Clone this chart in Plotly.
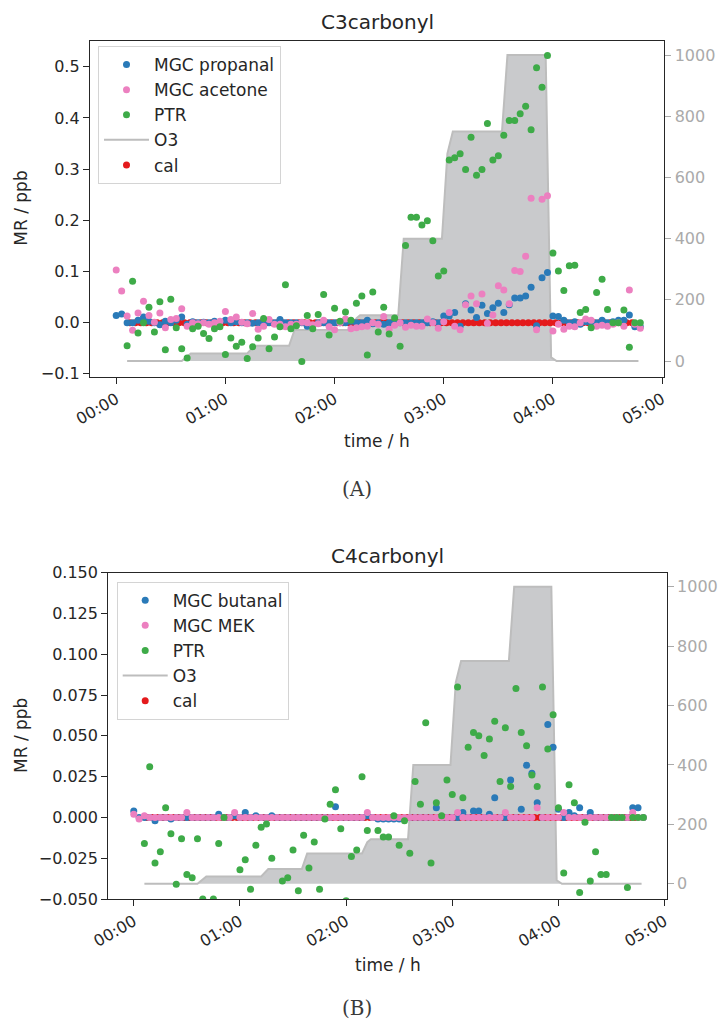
import plotly.graph_objects as go
from datetime import datetime, timedelta

# ---------------- data ----------------
BASE = datetime(2021, 1, 1, 0, 0)

# sampling times of MGC / PTR (minutes after start)
T_MIN = [0, 3, 6, 9, 12, 15, 18, 21, 24, 27, 30, 33, 36, 39, 42, 45, 48, 51, 54, 57,
         60, 63, 66, 69, 72, 75, 78, 81, 84, 87, 90, 93, 96, 99, 102, 105, 108, 111, 114, 117,
         120, 123, 126, 129, 132, 135, 138, 141, 144, 147, 150, 153, 156, 159, 162, 165, 168, 171, 174, 177,
         180, 183, 186, 189, 192, 195, 198, 201, 204, 207, 210, 213, 216, 219, 222, 225, 228, 231, 234, 237,
         240, 243, 246, 249, 252, 255, 258, 261, 264, 267, 270, 273, 276, 279, 282, 285, 288]

# calibration marks (minutes)
CAL_T = [7.5, 10.5, 13.5, 16.5, 19.5, 22.5, 25.5, 28.5, 31.5, 34.5, 37.5, 40.5, 43.5, 46.5, 49.5,
         52.5, 55.5, 58.5, 61.5, 64.5, 67.5, 70.5, 73.5, 76.5, 79.5, 82.5, 85.5, 88.5, 91.5, 94.5,
         97.5, 100.5, 103.5, 106.5, 109.5, 112.5, 115.5, 118.5, 121.5, 124.5, 127.5, 130.5, 133.5,
         136.5, 139.5, 142.5, 145.5, 148.5, 151.5, 154.5, 157.5, 160.5, 163.5, 166.5, 169.5, 172.5,
         175.5, 178.5, 181.5, 184.5, 187.5, 190.5, 193.5, 196.5, 199.5, 202.5, 205.5, 208.5, 211.5,
         214.5, 217.5, 220.5, 223.5, 226.5, 229.5, 232.5, 235.5, 238.5, 241.5, 244.5, 247.5, 250.5,
         253.5, 256.5, 259.5, 262.5, 265.5, 268.5, 271.5, 274.5, 277.5, 280.5, 283.5]
CAL_V = [0.0 for _ in CAL_T]

# ozone (ppb) profile
O3_T = [6, 36, 41, 72, 76, 95, 98, 129, 132, 134, 155, 158, 179, 182, 185, 212, 215, 236, 239, 242, 287]
O3_V = [0, 0, 25, 25, 50, 50, 102, 102, 140, 150, 150, 400, 400, 678, 750, 750, 1000, 1000, 12, 0, 0]

# panel A : C3 carbonyls (ppb)
A_PROPANAL = [0.014, 0.017, 0.0, 0.0, 0.005, 0.011, 0.003, 0.0, -0.004, 0.003,
              0.0, 0.005, 0.011, -0.003, 0.002, 0.0, 0.001, 0.0, 0.003, 0.0,
              0.005, 0.0, 0.002, 0.0, 0.0, -0.001, 0.0, 0.0, 0.0, 0.0,
              0.006, 0.0, 0.0, 0.0, 0.0, -0.007, -0.007, 0.0, 0.0, 0.0,
              0.0, 0.0, 0.0, 0.003, 0.0, 0.0, 0.005, -0.002, 0.0, -0.003,
              0.0, 0.0, 0.0, 0.0, 0.0, 0.0, 0.0, 0.0, 0.002, 0.0,
              0.013, 0.013, 0.020, -0.007, 0.037, 0.025, 0.010, 0.034, 0.018, 0.029,
              0.038, 0.020, 0.035, 0.048, 0.048, 0.052, 0.069, -0.006, 0.088, 0.098,
              0.013, 0.012, 0.005, 0.0, 0.002, -0.003, 0.002, 0.0, 0.0, 0.005,
              0.0, 0.002, 0.005, 0.005, 0.015, -0.008, -0.008]
A_ACETONE = [0.103, 0.062, 0.013, -0.015, 0.019, 0.042, 0.014, 0.001, 0.019, -0.010,
             0.006, 0.008, 0.027, -0.007, 0.0, -0.002, 0.0, -0.003, 0.0, 0.003,
             0.022, 0.006, 0.011, 0.001, -0.002, 0.018, -0.013, -0.007, 0.006, -0.003,
             -0.003, -0.008, -0.003, -0.003, 0.001, 0.0, -0.004, -0.002, 0.005, -0.008,
             -0.014, 0.0, 0.007, -0.012, -0.010, -0.008, -0.007, 0.0, -0.003, 0.012,
             -0.013, -0.005, 0.0, -0.009, -0.005, -0.007, -0.007, 0.007, 0.0, -0.011,
             0.002, 0.020, -0.007, -0.014, 0.035, 0.052, 0.037, 0.056, -0.001, 0.015,
             0.072, 0.064, 0.037, 0.102, 0.100, 0.130, 0.243, -0.014, 0.241, 0.248,
             -0.016, -0.003, -0.013, -0.007, -0.008, 0.0, 0.007, 0.005, -0.007, -0.005,
             -0.007, -0.003, 0.0, -0.007, 0.064, -0.003, -0.011]
A_PTR = [None, None, -0.045, 0.081, -0.020, 0.000, 0.030, -0.018, 0.041, -0.053,
         0.046, -0.010, -0.051, -0.069, -0.012, -0.007, -0.021, -0.031, -0.012, -0.008,
         -0.062, -0.030, -0.046, -0.038, -0.070, -0.047, -0.030, 0.008, -0.051, -0.028,
         -0.008, 0.074, -0.012, -0.006, -0.076, 0.014, -0.012, 0.016, 0.055, -0.024,
         0.028, 0.003, 0.021, 0.005, 0.038, 0.052, -0.063, 0.060, -0.018, 0.030,
         -0.022, 0.009, -0.046, 0.151, 0.206, 0.206, 0.191, 0.199, 0.160, 0.091,
         0.101, 0.318, 0.322, 0.330, 0.299, 0.362, 0.288, 0.299, 0.389, 0.318,
         0.326, 0.366, 0.395, 0.395, 0.408, 0.423, 0.377, 0.498, 0.460, 0.522,
         0.136, 0.101, 0.063, 0.111, 0.112, 0.020, 0.026, -0.010, 0.059, 0.085,
         0.026, 0.0, 0.0, 0.025, -0.048, 0.0, 0.0]

# panel B : C4 carbonyls (ppb)
B_BUTANAL = [0.004, 0.0, 0.0, 0.0, -0.002, 0.0, 0.0, -0.001, 0.0, 0.0,
             0.0, 0.0, 0.0, 0.0, 0.0, 0.0, 0.002, 0.0, 0.0, 0.001,
             0.0, 0.003, 0.0, 0.001, 0.0, 0.0, 0.001, 0.0, 0.0, 0.0,
             0.0, 0.0, 0.0, 0.0, 0.0, 0.0, 0.0, 0.0, 0.0065, 0.0,
             0.0, 0.0, 0.0, 0.0, 0.001, 0.0, -0.001, -0.001, -0.001, -0.001,
             -0.001, -0.001, 0.0, 0.0, 0.0, 0.0, 0.0, 0.006, 0.0, 0.0,
             0.0, 0.0, 0.003, 0.0, 0.004, 0.004, 0.0, 0.002, 0.012, 0.0,
             0.0, 0.023, 0.0, 0.005, 0.032, 0.027, 0.009, 0.0, 0.057, 0.043,
             0.005, 0.0, 0.003, 0.001, 0.006, 0.0, 0.003, 0.0, 0.0, 0.0,
             0.0, 0.0, 0.0, 0.0, 0.006, 0.006, 0.0]
B_MEK = [0.002, -0.001, 0.001, 0.0, 0.0, 0.0, 0.0, 0.0, 0.0, 0.0,
         0.003, 0.0, 0.0, 0.0, 0.0, 0.0, 0.0, 0.0, 0.0, 0.003,
         0.0, 0.0, 0.0, 0.0, 0.0, 0.0, 0.0, 0.0, 0.0, 0.0,
         0.0, 0.0, 0.0, 0.0, 0.0, 0.0, 0.0, 0.0, 0.0, 0.0,
         0.0, 0.0, 0.0, 0.0, 0.003, 0.0, 0.0, 0.0, 0.0, 0.0,
         0.0, 0.0, 0.0, 0.0, 0.0, 0.0, 0.0, 0.0, 0.0, 0.0,
         0.0, 0.003, 0.0, 0.0, 0.0, 0.0, 0.0, 0.0, 0.0, 0.0,
         0.003, 0.0, 0.0, 0.0, 0.0, 0.0, 0.006, 0.0, 0.0, 0.0,
         0.0, 0.003, 0.0, 0.0, 0.0, 0.0, 0.0, 0.0, 0.0, 0.0,
         0.0, 0.0, 0.0, 0.0, 0.003, 0.0, 0.0]
B_PTR = [None, None, -0.016, 0.031, -0.028, -0.021, 0.006, -0.010, -0.041, -0.013,
         -0.035, -0.037, -0.013, -0.050, None, -0.050, -0.016, 0.000, None, None,
         -0.032, -0.026, -0.044, -0.017, -0.006, -0.004, -0.025, None, -0.039, -0.037,
         -0.020, -0.045, -0.011, -0.031, -0.015, -0.044, -0.001, 0.008, 0.017, -0.007,
         -0.051, -0.024, -0.020, 0.025, -0.008, None, -0.008, -0.012, -0.012, 0.001,
         -0.017, -0.002, -0.022, 0.022, 0.008, 0.058, -0.028, 0.009, 0.001, 0.023,
         0.014, 0.080, 0.012, 0.043, 0.052, 0.050, 0.038, 0.048, 0.059, 0.022,
         0.055, 0.019, 0.079, 0.052, 0.044, 0.026, 0.019, 0.080, 0.042, 0.063,
         0.006, -0.034, 0.020, 0.009, -0.046, -0.003, -0.039, -0.021, -0.035, -0.035,
         0.0, 0.0, 0.0, -0.043, 0.0, 0.0, 0.0]

TICK_HOURS = [0, 1, 2, 3, 4, 5]

# ---------------- styling ----------------
W, H = 721, 1021
FONT = "DejaVu Sans"
DARK = "#262626"
GREY_AX = "#aaaaaa"
C_BLUE = "#2a7ab8"
C_PINK = "#ec80c0"
C_GREEN = "#3eab48"
C_RED = "#e41a1c"
C_FILL = "#c9cacc"
C_O3 = "#bdbdbd"


def tm(m):
    return BASE + timedelta(minutes=m)


T = [tm(m) for m in T_MIN]
TC = [tm(m) for m in CAL_T]
TO3 = [tm(m) for m in O3_T]
XRANGE = [tm(-14.4), tm(301.2)]
XTICKS = [tm(60 * h) for h in TICK_HOURS]

fig = go.Figure()


def add_panel(xa, ya_o3, ya_mr, leg, names, series):
    # ozone filled area + line (base axis, drawn beneath the points)
    fig.add_trace(go.Scatter(x=TO3, y=O3_V, mode="lines", fill="tozeroy",
                             fillcolor=C_FILL, line=dict(width=0, color=C_FILL),
                             xaxis=xa, yaxis=ya_o3, showlegend=False, hoverinfo="skip"))
    fig.add_trace(go.Scatter(x=TO3, y=O3_V, mode="lines", name="O3",
                             line=dict(width=2, color=C_O3),
                             xaxis=xa, yaxis=ya_o3, legend=leg, legendrank=4,
                             legendgroup=leg + "o3"))
    fig.add_trace(go.Scatter(x=TC, y=CAL_V, mode="markers", name="cal",
                             marker=dict(size=7, color=C_RED),
                             xaxis=xa, yaxis=ya_mr, legend=leg, legendrank=5,
                             legendgroup=leg + "cal"))
    cols = [C_BLUE, C_PINK, C_GREEN]
    for i, (nm, vals) in enumerate(zip(names, series)):
        fig.add_trace(go.Scatter(x=T, y=vals, mode="markers", name=nm,
                                 marker=dict(size=7, color=cols[i]),
                                 xaxis=xa, yaxis=ya_mr, legend=leg, legendrank=i + 1,
                                 legendgroup=leg + str(i)))


add_panel("x", "y", "y2", "legend", ["MGC propanal", "MGC acetone", "PTR"],
          [A_PROPANAL, A_ACETONE, A_PTR])
add_panel("x2", "y3", "y4", "legend2", ["MGC butanal", "MGC MEK", "PTR"],
          [B_BUTANAL, B_MEK, B_PTR])

tickfont = dict(family=FONT, size=16, color=DARK)
xcommon = dict(type="date", range=XRANGE, tickvals=XTICKS, tickformat="%H:%M",
               tickangle=-30, ticks="outside", ticklen=6, tickwidth=1.3, tickcolor=DARK,
               showline=True, linecolor=DARK, linewidth=1.3, mirror=True,
               showgrid=False, zeroline=False, tickfont=tickfont, automargin=False)
o3common = dict(side="right", range=[-51, 1047], tickvals=[0, 200, 400, 600, 800, 1000],
                ticks="outside", ticklen=6, tickwidth=1.3, tickcolor=GREY_AX,
                tickfont=dict(family=FONT, size=16, color=GREY_AX),
                showline=True, linecolor=DARK, linewidth=1.3,
                showgrid=False, zeroline=False, automargin=False)
mrcommon = dict(side="left", ticks="outside", ticklen=6, tickwidth=1.3, tickcolor=DARK,
                showline=True, linecolor=DARK, linewidth=1.3, showgrid=False,
                zeroline=False, tickfont=tickfont, automargin=False)

legcommon = dict(font=dict(family=FONT, size=17, color=DARK), bgcolor="rgba(255,255,255,0.85)",
                 bordercolor="#d4d4d4", borderwidth=1, xanchor="left", yanchor="top",
                 traceorder="grouped", tracegroupgap=0, itemwidth=45)

fig.update_layout(
    width=W, height=H, margin=dict(l=0, r=0, t=0, b=0, autoexpand=False),
    paper_bgcolor="white", plot_bgcolor="white",
    font=dict(family=FONT, color=DARK),
    xaxis=dict(domain=[90 / W, 664.3 / W], anchor="y", **xcommon),
    yaxis=dict(domain=[1 - 376.7 / H, 1 - 40.7 / H], anchor="x", **o3common),
    yaxis2=dict(overlaying="y", anchor="x", range=[-0.1055, 0.5508], tick0=0, dtick=0.1,
                tickformat=".1f", **mrcommon),
    xaxis2=dict(domain=[108.3 / W, 666.7 / W], anchor="y3", **xcommon),
    yaxis3=dict(domain=[1 - 899 / H, 1 - 572.7 / H], anchor="x2", **o3common),
    yaxis4=dict(overlaying="y3", anchor="x2", range=[-0.05, 0.15], tick0=0, dtick=0.025,
                tickformat=".3f", **mrcommon),
    legend=dict(x=98 / W, y=1 - 46 / H, **legcommon),
    legend2=dict(x=116.7 / W, y=1 - 581.7 / H, **legcommon),
    showlegend=True,
)

ann = [
    ("C3carbonyl", 377, 22, 20, FONT, 0),
    ("time / h", 377, 441, 17, FONT, 0),
    ("MR / ppb", 21, 208.7, 17, FONT, -90),
    ("(A)", 357, 489, 20, "DejaVu Serif", 0),
    ("C4carbonyl", 387.5, 556, 20, FONT, 0),
    ("time / h", 387.5, 965, 17, FONT, 0),
    ("MR / ppb", 21, 736, 17, FONT, -90),
    ("(B)", 357, 1008, 20, "DejaVu Serif", 0),
]
for text, x, y, size, fam, ang in ann:
    fig.add_annotation(text=text, x=x / W, y=1 - y / H, xref="paper", yref="paper",
                       xanchor="center", yanchor="middle", showarrow=False, textangle=ang,
                       font=dict(family=fam, size=size, color=DARK if fam == FONT else "#3a3a3a"))

fig.write_html("out.html")
